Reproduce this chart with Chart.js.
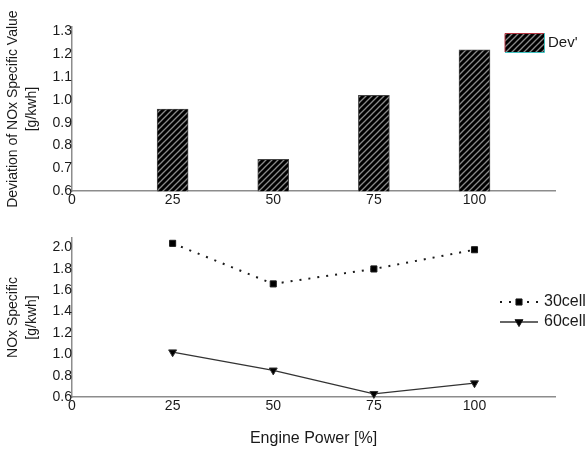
<!DOCTYPE html>
<html><head><meta charset="utf-8">
<script src="https://cdn.jsdelivr.net/npm/chart.js@4/dist/chart.umd.min.js"></script>
<style>
html,body{margin:0;padding:0;background:#fff;width:587px;height:451px;overflow:hidden}
#topChart{position:absolute;left:0;top:0}
#botChart{position:absolute;left:0;top:215px}
</style></head><body>
<canvas id="topChart" width="587" height="215"></canvas>
<canvas id="botChart" width="587" height="236"></canvas>
<script>
// ---- data ----
const enginePower = [25, 50, 75, 100];
const deviation = [0.96, 0.74, 1.02, 1.22];
const nox30cell = [2.04, 1.66, 1.80, 1.98];
const nox60cell = [1.02, 0.85, 0.63, 0.73];
const xTicks = [0, 25, 50, 75, 100];
const yTicksTop = [0.6, 0.7, 0.8, 0.9, 1.0, 1.1, 1.2, 1.3];
const yTicksBottom = [0.6, 0.8, 1.0, 1.2, 1.4, 1.6, 1.8, 2.0];
const topLegendLabel = "Dev'";
const lineLabels = ["30cell", "60cell"];
const topYTitle = ["Deviation of NOx Specific Value", "[g/kwh]"];
const botYTitle = ["NOx Specific", "[g/kwh]"];
const xTitle = "Engine Power [%]";

Chart.defaults.font.family = "'Liberation Sans', Arial, sans-serif";
Chart.defaults.color = '#1a1a1a';

// hatch pattern
const tile = document.createElement('canvas');
tile.width = 6; tile.height = 6;
const tc = tile.getContext('2d');
tc.fillStyle = '#000'; tc.fillRect(0, 0, 6, 6);
tc.strokeStyle = '#8a8a8a'; tc.lineWidth = 1.3;
tc.beginPath();
tc.moveTo(0, 6); tc.lineTo(6, 0);
tc.moveTo(-1, 1); tc.lineTo(1, -1);
tc.moveTo(5, 7); tc.lineTo(7, 5);
tc.stroke();
const hatch = tc.createPattern(tile, 'repeat');

const axisColor = '#8c8c8c';
function xScale(showTitle) {
  return {
    type: 'linear', min: 0, max: 120, offset: false,
    grid: { display: false, drawTicks: false },
    border: { display: true, color: axisColor, width: 1.5 },
    afterBuildTicks: s => { s.ticks = xTicks.map(v => ({ value: v })); },
    ticks: { autoSkip: false, maxRotation: 0, padding: 1, font: { size: 14 }, callback: v => String(v) },
    title: showTitle ? { display: true, text: xTitle, font: { size: 16 }, padding: { top: 13, bottom: 3 } } : { display: false }
  };
}
function yScale(min, max, ticks, title) {
  return {
    min: min, max: max,
    grid: { display: false, drawTicks: false },
    border: { display: true, color: axisColor, width: 1.5 },
    afterBuildTicks: s => { s.ticks = ticks.map(v => ({ value: v })); },
    afterFit: s => { s.width = 72; },
    ticks: { padding: 0, font: { size: 14 }, callback: v => v.toFixed(1) },
    title: { display: true, text: title, font: { size: 14, lineHeight: 1.4 }, padding: { top: 3, bottom: 0 } }
  };
}

const topLegend = {
  id: 'topLegend',
  afterDraw(chart) {
    const c = chart.ctx;
    c.save();
    c.fillStyle = hatch;
    c.fillRect(505, 33, 39, 19);
    c.lineWidth = 1;
    c.strokeStyle = '#b0303c';
    c.beginPath(); c.moveTo(505, 52); c.lineTo(505, 33.5); c.lineTo(544, 33.5); c.stroke();
    c.strokeStyle = '#3cc0c0';
    c.beginPath(); c.moveTo(544.5, 33); c.lineTo(544.5, 52.5); c.lineTo(505, 52.5); c.stroke();
    c.fillStyle = '#1a1a1a';
    c.font = "15px 'Liberation Sans', Arial, sans-serif";
    c.textBaseline = 'middle';
    c.fillText(topLegendLabel, 548, 43);
    c.restore();
  }
};

const botLegend = {
  id: 'botLegend',
  afterDraw(chart) {
    const c = chart.ctx;
    const rows = [87, 107];
    chart.data.datasets.forEach((ds, i) => {
      const y = rows[i];
      c.save();
      c.strokeStyle = ds.borderColor;
      c.lineWidth = ds.borderWidth;
      c.setLineDash(ds.borderDash || []);
      c.beginPath(); c.moveTo(500, y); c.lineTo(538, y); c.stroke();
      c.setLineDash([]);
      c.restore();
      Chart.helpers.drawPoint(c, {
        pointStyle: ds.pointStyle, radius: ds.pointRadius, rotation: ds.pointRotation || 0,
        borderWidth: 1
      }, 519, y);
      c.save();
      c.fillStyle = '#1a1a1a';
      c.font = "16px 'Liberation Sans', Arial, sans-serif";
      c.textBaseline = 'middle';
      c.fillText(ds.label, 544, y);
      c.restore();
    });
  }
};

new Chart(document.getElementById('topChart'), {
  type: 'bar',
  data: {
    datasets: [{
      label: topLegendLabel,
      data: enginePower.map((x, i) => ({ x: x, y: deviation[i] })),
      backgroundColor: hatch,
      borderColor: '#444',
      borderWidth: 1,
      borderSkipped: false,
      barThickness: 31
    }]
  },
  options: {
    responsive: false, animation: false,
    layout: { padding: { top: 27, right: 32, left: 0, bottom: 5 } },
    plugins: { legend: { display: false }, tooltip: { enabled: false } },
    scales: { x: xScale(false), y: yScale(0.6, 1.32, yTicksTop, topYTitle) }
  },
  plugins: [topLegend]
});

new Chart(document.getElementById('botChart'), {
  type: 'line',
  data: {
    datasets: [{
      label: lineLabels[0],
      data: enginePower.map((x, i) => ({ x: x, y: nox30cell[i] })),
      borderColor: '#1a1a1a', backgroundColor: '#000',
      borderWidth: 2, borderDash: [2, 7],
      pointStyle: 'rect', pointRadius: 4.3, pointBorderWidth: 1,
      tension: 0, clip: false
    }, {
      label: lineLabels[1],
      data: enginePower.map((x, i) => ({ x: x, y: nox60cell[i] })),
      borderColor: '#333', backgroundColor: '#000',
      borderWidth: 1.3,
      pointStyle: 'triangle', pointRotation: 180, pointRadius: 4.6, pointBorderWidth: 1,
      tension: 0, clip: false
    }]
  },
  options: {
    responsive: false, animation: false,
    layout: { padding: { top: 23, right: 32, left: 0, bottom: 0 } },
    plugins: { legend: { display: false }, tooltip: { enabled: false } },
    scales: { x: xScale(true), y: yScale(0.6, 2.09, yTicksBottom, botYTitle) }
  },
  plugins: [botLegend]
});
</script>
</body></html>
